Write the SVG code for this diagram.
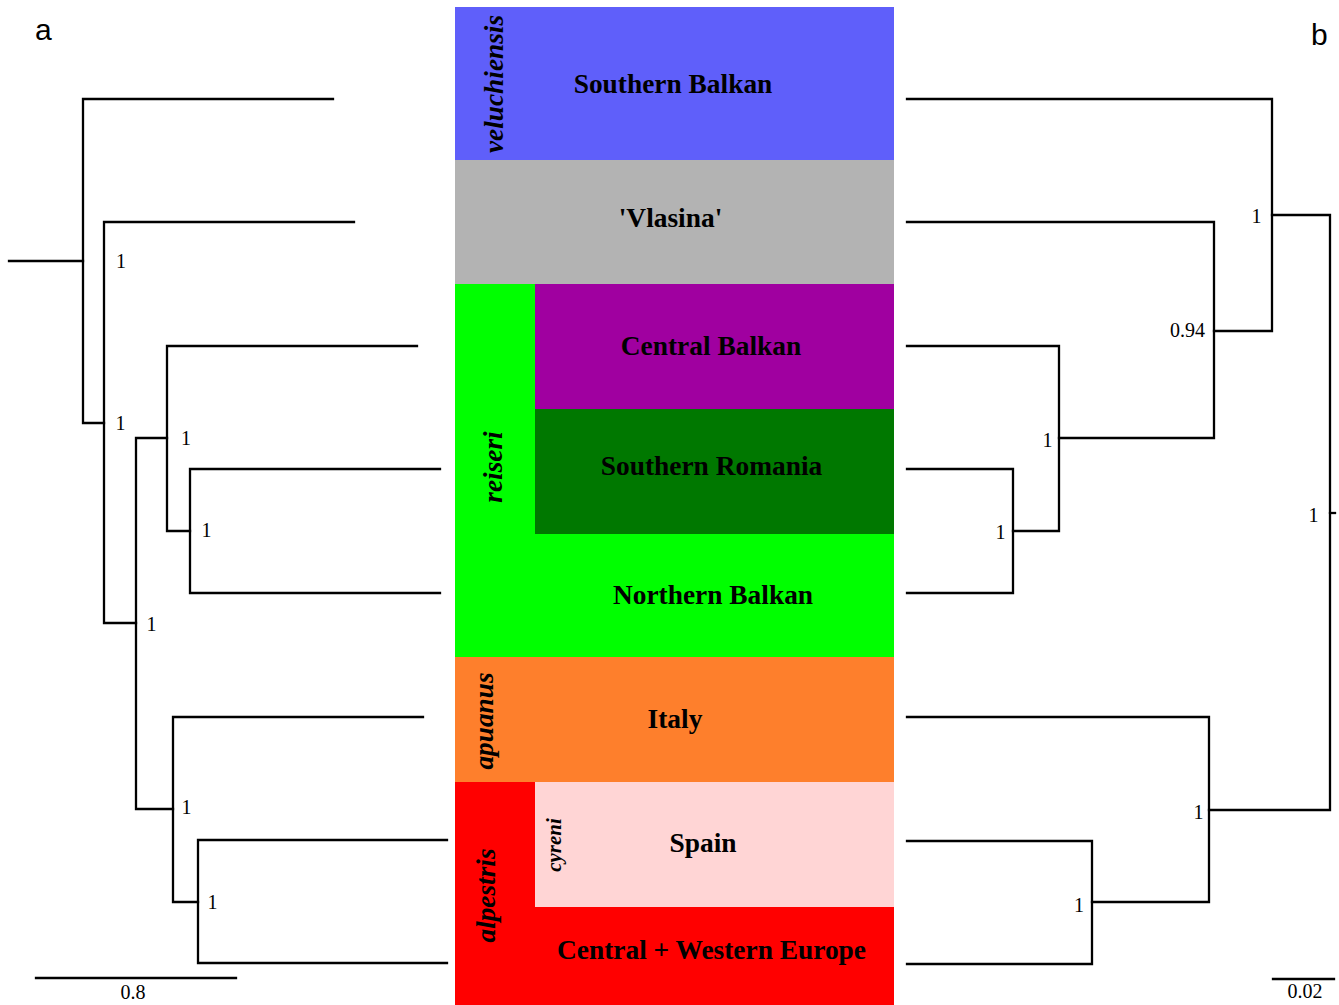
<svg xmlns="http://www.w3.org/2000/svg" width="1339" height="1005" viewBox="0 0 1339 1005">
<style>
.br{fill:none;stroke:#000;stroke-width:2.3;stroke-linecap:square;stroke-linejoin:miter}
.sup{font-family:"Liberation Serif","Times New Roman",serif;font-size:20px;fill:#000;text-anchor:middle}
.sup-e{font-family:"Liberation Serif","Times New Roman",serif;font-size:20px;fill:#000;text-anchor:end}
.reg{font-family:"Liberation Serif","Times New Roman",serif;font-size:27.4px;font-weight:bold;fill:#000;text-anchor:middle}
.tax{font-family:"Liberation Serif","Times New Roman",serif;font-size:27.3px;font-weight:bold;font-style:italic;fill:#000;text-anchor:middle}
.pan{font-family:"Liberation Sans",Arial,sans-serif;font-size:30px;fill:#000}
</style>
<rect width="1339" height="1005" fill="#fff"/>
<text class="pan" x="35" y="39.5">a</text>
<text class="pan" x="1311" y="45">b</text>

<g id="blocks">
<g id="southern-balkan">
<rect x="455" y="7" width="439" height="153" fill="#5f5ffa"/>
<text class="reg" x="673" y="93">Southern Balkan</text>
</g>
<g id="vlasina">
<rect x="455" y="160" width="439" height="124" fill="#b3b3b3"/>
<text class="reg" x="670.5" y="227">'Vlasina'</text>
</g>
<g id="reiseri-clade">
<rect x="455" y="284" width="439" height="373" fill="#00ff00"/>
<text class="tax" transform="translate(502,467) rotate(-90)">reiseri</text>
</g>
<g id="central-balkan">
<rect x="535" y="284" width="359" height="125" fill="#a000a0"/>
<text class="reg" x="711" y="355">Central Balkan</text>
</g>
<g id="southern-romania">
<rect x="535" y="409" width="359" height="125" fill="#007800"/>
<text class="reg" x="711.5" y="475">Southern Romania</text>
</g>
<g id="northern-balkan">
<text class="reg" x="713" y="604">Northern Balkan</text>
</g>
<g id="italy">
<rect x="455" y="657" width="439" height="125" fill="#fe7f2c"/>
<text class="tax" transform="translate(493,721) rotate(-90)">apuanus</text>
<text class="reg" x="675" y="728">Italy</text>
</g>
<g id="alpestris-clade">
<rect x="455" y="782" width="439" height="223" fill="#ff0000"/>
<text class="tax" transform="translate(495,895.5) rotate(-90)">alpestris</text>
</g>
<g id="spain">
<rect x="535" y="782" width="359" height="125" fill="#ffd5d5"/>
<text class="tax" style="font-size:21px" transform="translate(560.5,845) rotate(-90)">cyreni</text>
<text class="reg" x="703" y="852">Spain</text>
</g>
<g id="central-western-europe">
<text class="reg" x="711.5" y="959">Central + Western Europe</text>
</g>
<g id="veluchiensis-label">
<text class="tax" transform="translate(503,84) rotate(-90)">veluchiensis</text>
</g>
</g>

<g id="connectors">
<path class="br" d="M9,261 H83"/>
<path class="br" d="M333,99 H83 V423 H104"/>
<path class="br" d="M354,222 H104 V623 H136"/>
<path class="br" d="M167,438 H136 V809 H173"/>
<path class="br" d="M417,346 H167 V531 H190"/>
<path class="br" d="M440,469 H190 V593 H440"/>
<path class="br" d="M423,717 H173 V902 H198"/>
<path class="br" d="M447,840 H198 V963 H447"/>
<path class="br" d="M36,978 H236"/>

<path class="br" d="M907,99 H1272 V331 H1214"/>
<path class="br" d="M907,222 H1214 V438 H1059"/>
<path class="br" d="M907,346 H1059 V531 H1013"/>
<path class="br" d="M907,469 H1013 V593 H907"/>
<path class="br" d="M1272,215 H1330 V810 H1209"/>
<path class="br" d="M1330,513 H1335"/>
<path class="br" d="M907,717 H1209 V902 H1092"/>
<path class="br" d="M907,841 H1092 V964 H907"/>
<path class="br" d="M1273,979 H1334"/>
</g>

<g id="support-values">
<text class="sup" x="121" y="268">1</text>
<text class="sup" x="120.5" y="430">1</text>
<text class="sup" x="151.5" y="631">1</text>
<text class="sup" x="186" y="445">1</text>
<text class="sup" x="206.5" y="537">1</text>
<text class="sup" x="186.5" y="814">1</text>
<text class="sup" x="212.5" y="909">1</text>
<text class="sup" x="133" y="999">0.8</text>

<text class="sup" x="1256.5" y="223">1</text>
<text class="sup-e" x="1205" y="337">0.94</text>
<text class="sup" x="1047.5" y="447">1</text>
<text class="sup" x="1000.5" y="539">1</text>
<text class="sup" x="1313.5" y="521.5">1</text>
<text class="sup" x="1198.5" y="819">1</text>
<text class="sup" x="1079" y="912">1</text>
<text class="sup" x="1305" y="998">0.02</text>
</g>
</svg>
